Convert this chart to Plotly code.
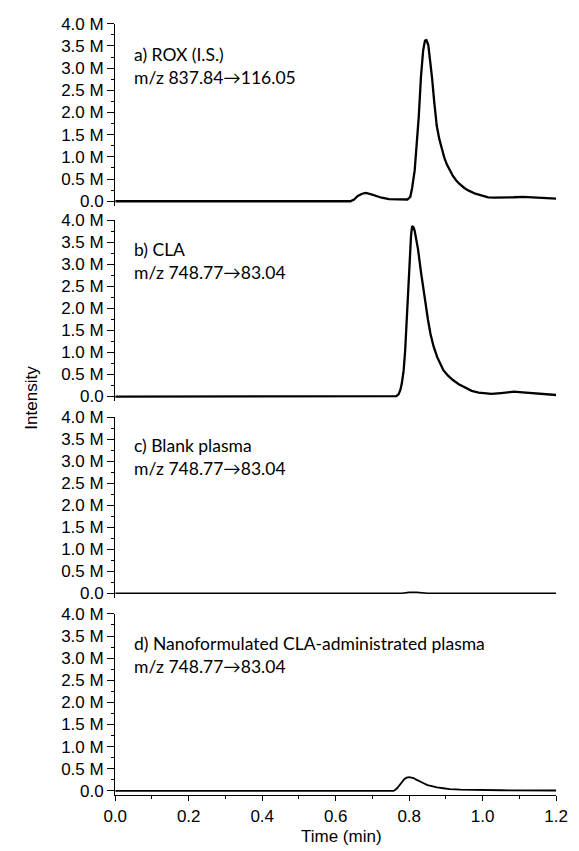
import plotly.graph_objects as go

# ---------------- data (intensity in millions of counts) ----------------
time_a = [0.00, 0.30, 0.60, 0.640, 0.650, 0.660, 0.672, 0.682, 0.695, 0.710, 0.725, 0.745,
          0.770, 0.795, 0.803, 0.808, 0.815, 0.820, 0.826, 0.832, 0.838, 0.843, 0.847,
          0.852, 0.857, 0.862, 0.868, 0.875, 0.882, 0.889, 0.896, 0.903, 0.911, 0.919,
          0.928, 0.937, 0.950, 0.962, 0.980, 0.997, 1.015, 1.032, 1.060, 1.085, 1.110,
          1.140, 1.170, 1.200]
int_a = [0.0, 0.0, 0.0, 0.0, 0.04, 0.12, 0.17, 0.19, 0.16, 0.12, 0.08, 0.05,
         0.04, 0.04, 0.10, 0.30, 0.70, 1.20, 1.90, 2.80, 3.40, 3.62, 3.63,
         3.52, 3.20, 2.80, 2.25, 1.70, 1.40, 1.16, 0.97, 0.82, 0.68, 0.57,
         0.47, 0.39, 0.30, 0.24, 0.17, 0.13, 0.09, 0.08, 0.08, 0.09, 0.10,
         0.09, 0.07, 0.06]

time_b = [0.00, 0.40, 0.760, 0.765, 0.771, 0.776, 0.780, 0.785, 0.789, 0.793, 0.797,
          0.802, 0.805, 0.808, 0.812, 0.815, 0.820, 0.824, 0.832, 0.838, 0.845, 0.851,
          0.858, 0.866, 0.876, 0.884, 0.893, 0.905, 0.919, 0.935, 0.954, 0.970, 0.989,
          1.005, 1.024, 1.050, 1.070, 1.085, 1.100, 1.128, 1.160, 1.200]
int_b = [0.0, 0.0, 0.0, 0.01, 0.05, 0.15, 0.30, 0.60, 1.04, 1.70, 2.46,
         3.20, 3.65, 3.87, 3.84, 3.76, 3.55, 3.35, 2.83, 2.45, 2.09, 1.75,
         1.42, 1.15, 0.90, 0.74, 0.60, 0.48, 0.375, 0.28, 0.19, 0.13, 0.09,
         0.07, 0.06, 0.08, 0.10, 0.11, 0.10, 0.08, 0.06, 0.035]

time_c = [0.00, 0.40, 0.78, 0.80, 0.82, 0.85, 1.00, 1.20]
int_c = [0.0, 0.0, 0.0, 0.02, 0.02, 0.0, 0.0, 0.0]

time_d = [0.00, 0.40, 0.758, 0.767, 0.774, 0.780, 0.787, 0.793, 0.800, 0.806, 0.812,
          0.818, 0.824, 0.835, 0.850, 0.862, 0.876, 0.893, 0.910, 0.940, 0.980, 1.050,
          1.200]
int_d = [0.0, 0.0, 0.0, 0.06, 0.14, 0.21, 0.27, 0.30, 0.31, 0.30, 0.29,
         0.26, 0.24, 0.19, 0.13, 0.10, 0.08, 0.06, 0.04, 0.03, 0.02, 0.015,
         0.01]

panel_labels = [
    "a) ROX (I.S.)<br>m/z 837.84→116.05",
    "b) CLA<br>m/z 748.77→83.04",
    "c) Blank plasma<br>m/z 748.77→83.04",
    "d) Nanoformulated CLA-administrated plasma<br>m/z 748.77→83.04",
]
y_tick_vals = [0.0, 0.5, 1.0, 1.5, 2.0, 2.5, 3.0, 3.5, 4.0]
y_tick_text = ["0.0", "0.5 M", "1.0 M", "1.5 M", "2.0 M", "2.5 M", "3.0 M", "3.5 M", "4.0 M"]
x_tick_vals = [0.0, 0.2, 0.4, 0.6, 0.8, 1.0, 1.2]
x_tick_text = ["0.0", "0.2", "0.4", "0.6", "0.8", "1.0", "1.2"]

# ---------------- layout geometry (screen pixels of the reference) ----------------
W, H = 579, 851


def px_x(x):
    return x / W


def px_y(y):
    return 1 - y / H


x_left, x_right = 107.7, 567.7
panel_px = [(15, 200), (215, 398.5), (415, 598.5), (615, 799.5)]   # top, bottom
label_centers = [58.3, 256.7, 456.0, 656.5]
line_widths = [2.3, 2.3, 1.6, 1.8]

series = [(time_a, int_a), (time_b, int_b), (time_c, int_c), (time_d, int_d)]

fig = go.Figure()
AX_FONT = dict(family="Liberation Sans, Arial, sans-serif", size=17, color="black")
TXT_FONT = dict(family="Lato, Open Sans, sans-serif", size=17.5, color="black")

layout = dict(
    width=W, height=H,
    margin=dict(l=0, r=0, t=0, b=0),
    paper_bgcolor="white", plot_bgcolor="white",
    showlegend=False,
)

for i, (t, v) in enumerate(series):
    n = i + 1
    xs = "x" if n == 1 else f"x{n}"
    ys = "y" if n == 1 else f"y{n}"
    fig.add_trace(go.Scatter(
        x=t, y=v, mode="lines", xaxis=xs, yaxis=ys,
        line=dict(color="black", width=line_widths[i]),
        hoverinfo="skip",
    ))
    top, bot = panel_px[i]
    last = (n == 4)
    layout["xaxis" if n == 1 else f"xaxis{n}"] = dict(
        domain=[px_x(x_left), px_x(x_right)], range=[0, 1.2], anchor=ys,
        showgrid=False, zeroline=False,
        showline=last, linecolor="black", linewidth=1.3,
        ticks="outside" if last else "", ticklen=5, tickwidth=1.3, tickcolor="black",
        tickvals=x_tick_vals, ticktext=x_tick_text, showticklabels=last,
        tickfont=AX_FONT, ticklabeloverflow="allow",
        minor=dict(dtick=0.1, tick0=0, ticks="outside" if last else "", ticklen=3,
                   tickwidth=1, tickcolor="black", showgrid=False),
    )
    layout["yaxis" if n == 1 else f"yaxis{n}"] = dict(
        domain=[px_y(bot), px_y(top)], range=[-0.1, 4.0], anchor=xs,
        showgrid=False, zeroline=False,
        showline=True, linecolor="black", linewidth=1.3,
        ticks="outside", ticklen=7, tickwidth=1.3, tickcolor="black",
        tickvals=y_tick_vals, ticktext=y_tick_text, tickfont=AX_FONT,
        ticklabeloverflow="allow",
        minor=dict(dtick=0.25, tick0=0, ticks="outside", ticklen=3,
                   tickwidth=1, tickcolor="black", showgrid=False),
    )

annotations = []
for i, lab in enumerate(panel_labels):
    annotations.append(dict(
        text=lab, xref="paper", yref="paper",
        x=px_x(125), y=px_y(label_centers[i]), xanchor="left", yanchor="middle",
        align="left", showarrow=False, font=TXT_FONT,
    ))
annotations.append(dict(
    text="Time (min)", xref="paper", yref="paper", x=px_x(344), y=px_y(841),
    xanchor="center", yanchor="middle", showarrow=False, font=AX_FONT,
))
annotations.append(dict(
    text="Intensity", xref="paper", yref="paper", x=px_x(20), y=px_y(395),
    xanchor="center", yanchor="middle", textangle=-90, showarrow=False, font=AX_FONT,
))
layout["annotations"] = annotations

fig.update_layout(**layout)
# remove the default page margin so the figure starts at the window corner
fig.write_html(
    "out.html",
    config={"displayModeBar": False},
    post_script="document.body.style.margin='0';document.body.style.overflow='hidden';",
)
